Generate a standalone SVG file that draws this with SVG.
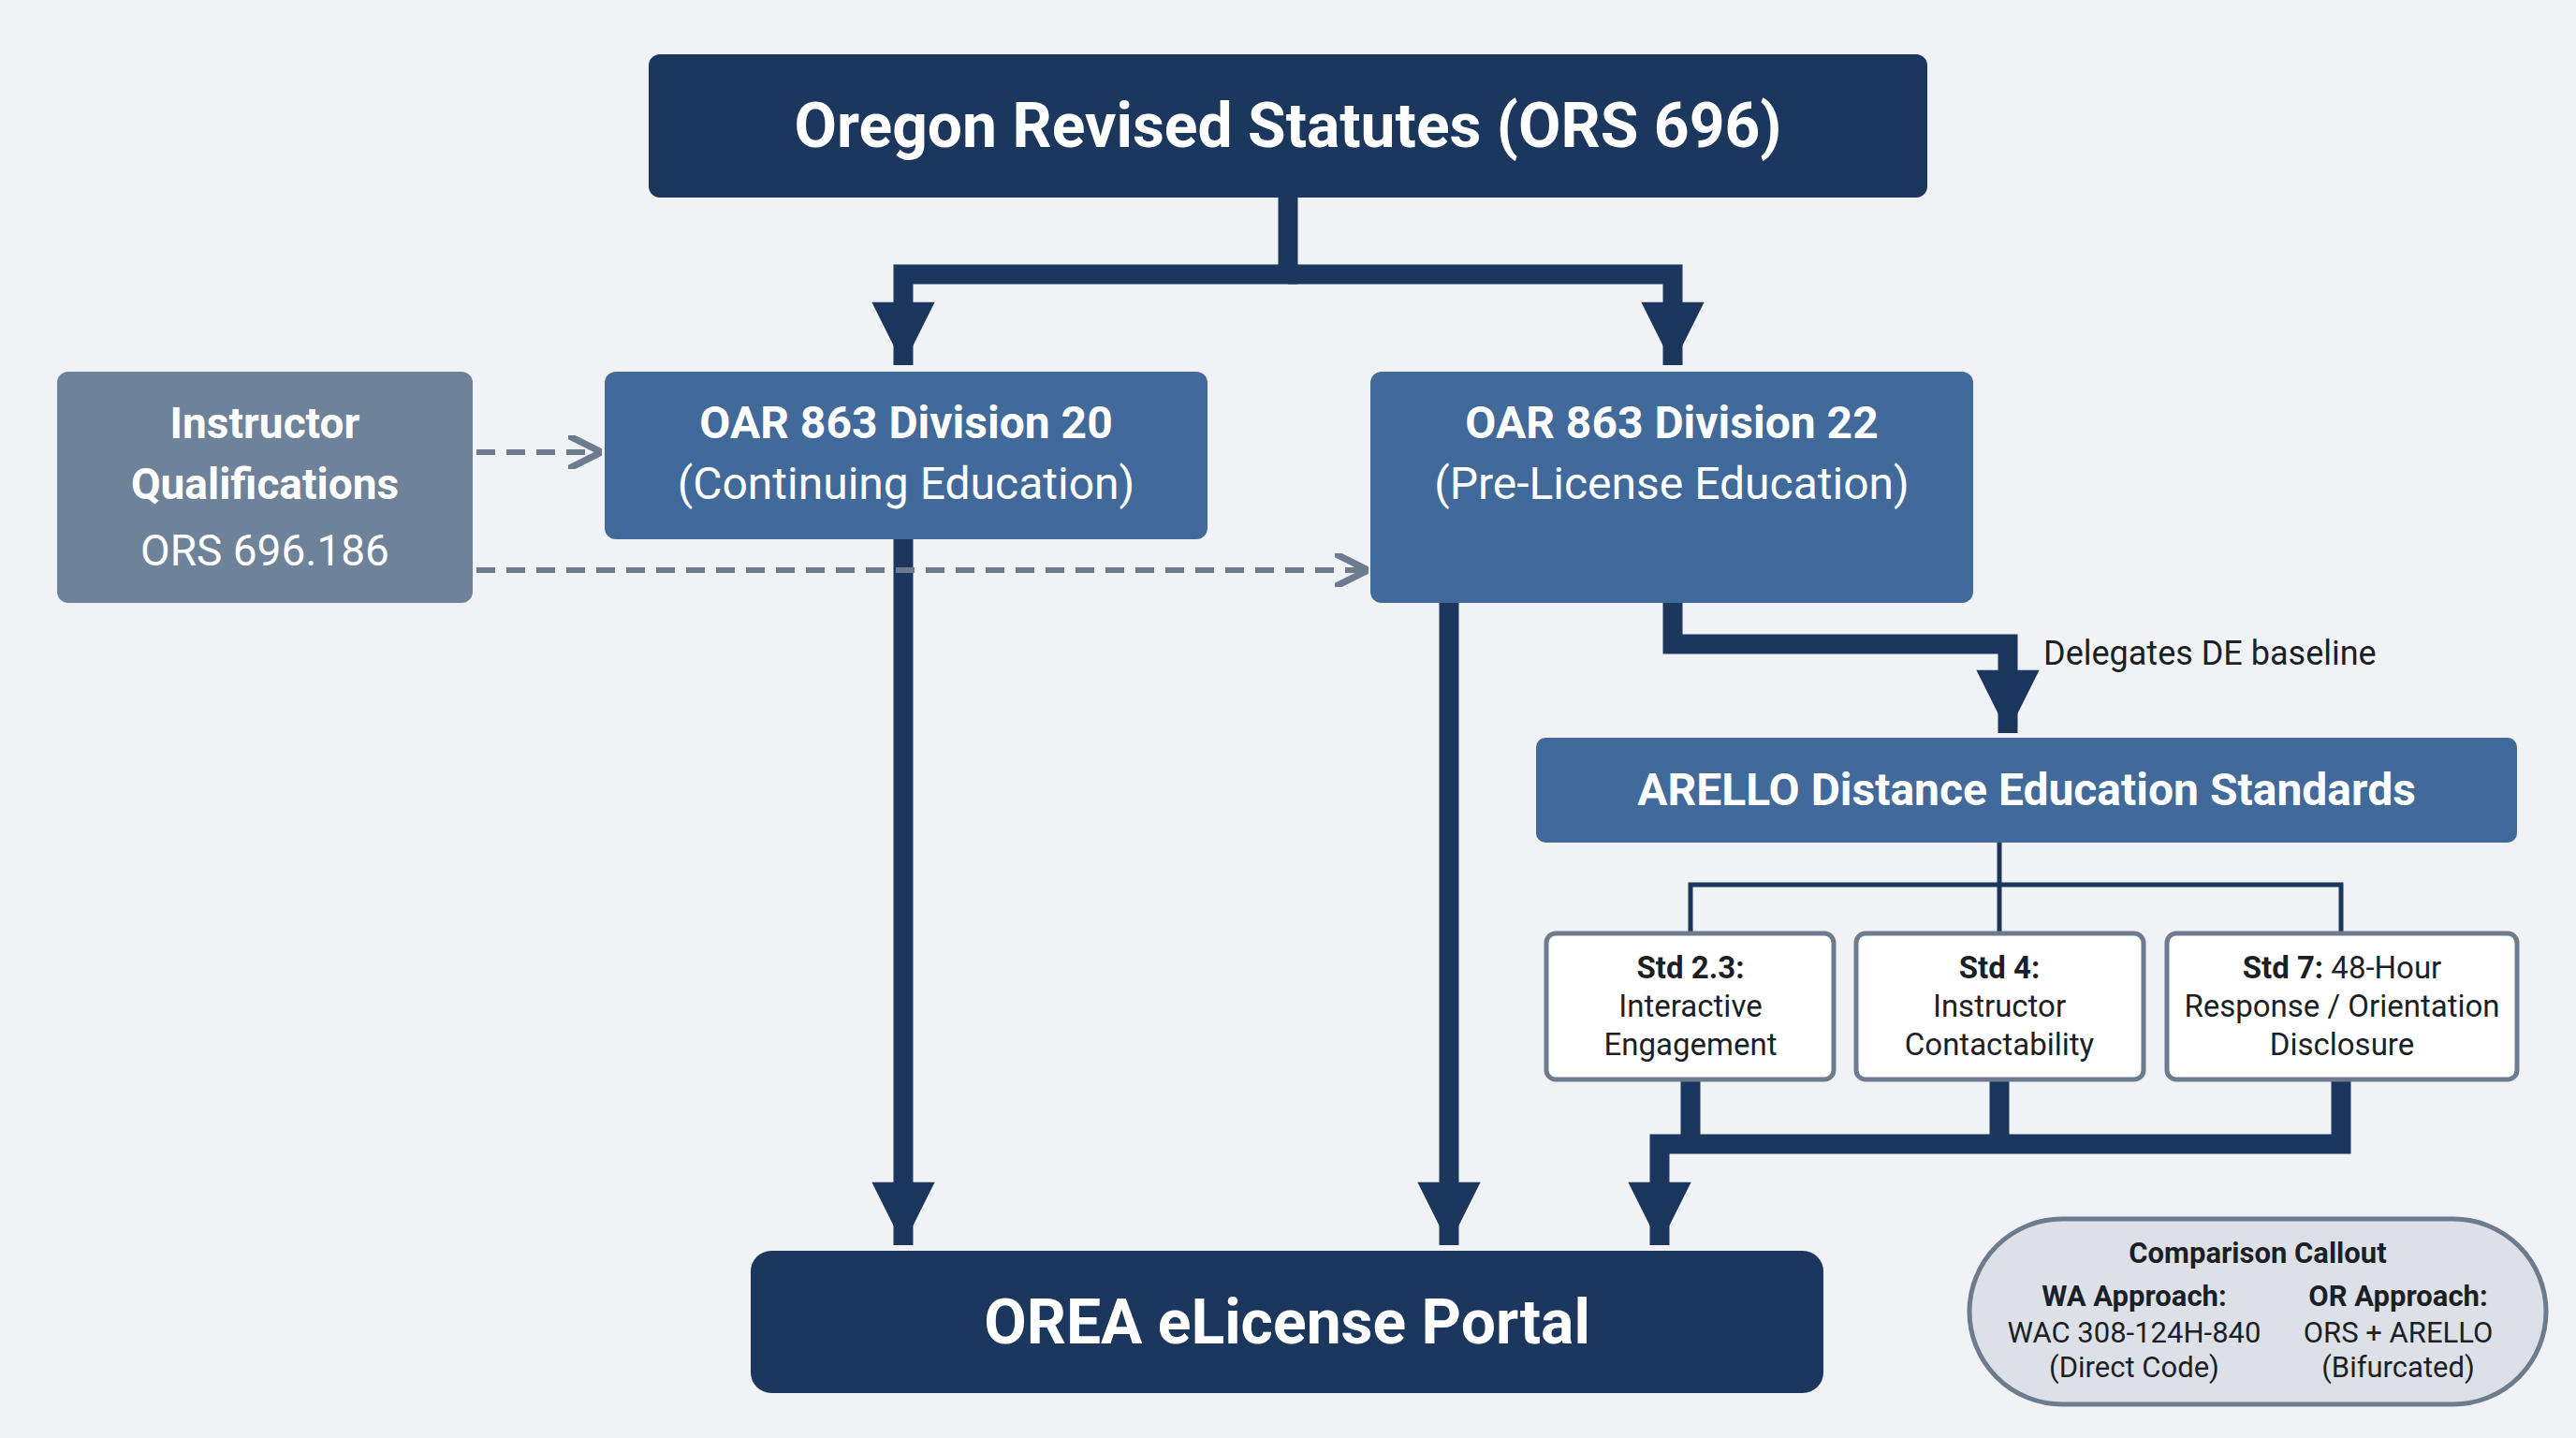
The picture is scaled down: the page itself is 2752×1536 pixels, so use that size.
<svg xmlns="http://www.w3.org/2000/svg" width="2752" height="1536" viewBox="0 0 2752 1536">
<defs>
<style>
.t{font-family:Roboto,"Liberation Sans",sans-serif;text-anchor:middle}
.w{fill:#fff}
.k{fill:#1b1f26}
.b{font-weight:bold}
.dark{fill:#1b375e}
.mid{fill:#41699a}
.conn{fill:none;stroke:#1b375e;stroke-width:21}
.thin{fill:none;stroke:#1b375e;stroke-width:5}
.dash{fill:none;stroke:#6d7b8e;stroke-width:6;stroke-dasharray:20 12}
.std{fill:#fff;stroke:#6d7b8e;stroke-width:5}
</style>
<marker id="ah" viewBox="0 0 10 10" refX="10" refY="5" markerWidth="4" markerHeight="3.2" orient="auto" markerUnits="strokeWidth"><path d="M0,0L10,5L0,10z" fill="#1b375e"/></marker>
<marker id="ad" viewBox="0 0 10 10" refX="9" refY="5" markerWidth="6" markerHeight="6" orient="auto" markerUnits="strokeWidth"><path d="M0,0L10,5L0,10" fill="none" stroke="#6d7b8e" stroke-width="2"/></marker>
</defs>
<rect width="2752" height="1536" fill="#f0f2f5"/>
<g id="connectors">
<path class="conn" d="M1376,211V293H965V390" marker-end="url(#ah)"/>
<path class="conn" d="M1376,293H1787V390" marker-end="url(#ah)"/>
<path class="conn" d="M965,576V1330" marker-end="url(#ah)"/>
<path class="conn" d="M1548,644V1330" marker-end="url(#ah)"/>
<path class="conn" d="M1787,644V688H2145V783" marker-end="url(#ah)"/>
<path class="thin" d="M2136,900V945M1806,997V945H2501V997M2136,945V997"/>
<path class="conn" d="M1806,1153V1222H2501V1153M2136,1153V1222M1806,1222H1773V1330" marker-end="url(#ah)"/>
<path class="dash" d="M509,483H639" marker-end="url(#ad)"/>
<path class="dash" d="M509,609H1458" marker-end="url(#ad)"/>
<text class="t k" x="2183" y="710" font-size="36" text-anchor="start" style="text-anchor:start">Delegates DE baseline</text>
</g>
<g id="ors">
<rect class="dark" x="693" y="58" width="1366" height="153" rx="12"/>
<text class="t w b" x="1376" y="157" font-size="66">Oregon Revised Statutes (ORS 696)</text>
</g>
<g id="instructor">
<rect x="61" y="397" width="444" height="247" rx="12" fill="#6e8299"/>
<text class="t w b" x="283" y="468" font-size="46">Instructor</text>
<text class="t w b" x="283" y="533" font-size="46">Qualifications</text>
<text class="t w" x="283" y="604" font-size="46">ORS 696.186</text>
</g>
<g id="div20">
<rect class="mid" x="646" y="397" width="644" height="179" rx="12"/>
<text class="t w b" x="968" y="468" font-size="48">OAR 863 Division 20</text>
<text class="t w" x="968" y="533" font-size="48">(Continuing Education)</text>
</g>
<g id="div22">
<rect class="mid" x="1464" y="397" width="644" height="247" rx="12"/>
<text class="t w b" x="1786" y="468" font-size="48">OAR 863 Division 22</text>
<text class="t w" x="1786" y="533" font-size="48">(Pre-License Education)</text>
</g>
<g id="arello">
<rect class="mid" x="1641" y="788" width="1048" height="112" rx="10"/>
<text class="t w b" x="2165" y="860" font-size="48">ARELLO Distance Education Standards</text>
</g>
<g id="std23">
<rect class="std" x="1652" y="997" width="307" height="156" rx="10"/>
<text class="t k" font-size="33"><tspan class="b" x="1806" y="1045">Std 2.3:</tspan><tspan x="1806" y="1086">Interactive</tspan><tspan x="1806" y="1127">Engagement</tspan></text>
</g>
<g id="std4">
<rect class="std" x="1983" y="997" width="307" height="156" rx="10"/>
<text class="t k" font-size="33"><tspan class="b" x="2136" y="1045">Std 4:</tspan><tspan x="2136" y="1086">Instructor</tspan><tspan x="2136" y="1127">Contactability</tspan></text>
</g>
<g id="std7">
<rect class="std" x="2315" y="997" width="374" height="156" rx="10"/>
<text class="t k" font-size="33"><tspan x="2502" y="1045"><tspan class="b">Std 7:</tspan> 48-Hour</tspan><tspan x="2502" y="1086">Response / Orientation</tspan><tspan x="2502" y="1127">Disclosure</tspan></text>
</g>
<g id="orea">
<rect class="dark" x="802" y="1336" width="1146" height="152" rx="22"/>
<text class="t w b" x="1375" y="1435" font-size="66">OREA eLicense Portal</text>
</g>
<g id="callout">
<rect x="2104" y="1302" width="616" height="198" rx="99" fill="#dde1e7" stroke="#6d7b8e" stroke-width="5"/>
<text class="t k b" x="2412" y="1349" font-size="31">Comparison Callout</text>
<text class="t k" font-size="31"><tspan class="b" x="2280" y="1395">WA Approach:</tspan><tspan x="2280" y="1434">WAC 308-124H-840</tspan><tspan x="2280" y="1471">(Direct Code)</tspan></text>
<text class="t k" font-size="31"><tspan class="b" x="2562" y="1395">OR Approach:</tspan><tspan x="2562" y="1434">ORS + ARELLO</tspan><tspan x="2562" y="1471">(Bifurcated)</tspan></text>
</g>
</svg>
